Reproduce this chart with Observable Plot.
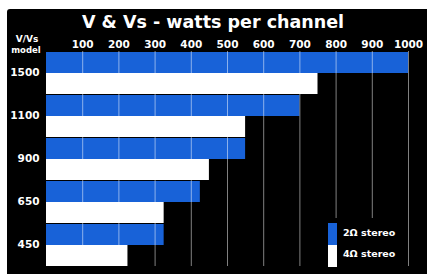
<!DOCTYPE html>
<html><head><meta charset="utf-8">
<script src="https://cdn.jsdelivr.net/npm/d3@7"></script>
<script src="https://cdn.jsdelivr.net/npm/@observablehq/plot@0.6"></script>
<style>
html,body{margin:0;padding:0;background:#fff;width:427px;height:274px;overflow:hidden}
#panel{position:absolute;left:7px;top:9px;width:420px;height:265px;background:#000;border-radius:3px 0 0 0}
svg{font-family:"DejaVu Sans",sans-serif;font-weight:bold}
</style></head>
<body><div id="panel"></div>
<script>
const title = "V & Vs - watts per channel";
const models = [1500, 1100, 900, 650, 450];
const series = ["2Ω stereo", "4Ω stereo"];
const watts2ohm = [1000, 700, 550, 425, 325];
const watts4ohm = [750, 550, 450, 325, 225];
const tickValues = [100, 200, 300, 400, 500, 600, 700, 800, 900, 1000];
const colors = ["#1862d8", "#ffffff"];

const data = [];
models.forEach((m, i) => {
  data.push({model: m, series: series[0], watts: watts2ohm[i]});
  data.push({model: m, series: series[1], watts: watts4ohm[i]});
});

const plot = Plot.plot({
  width: 420, height: 265,
  marginLeft: 39, marginRight: 19, marginTop: 41, marginBottom: 7,
  style: {background: "transparent", color: "white", fontSize: "10.5px", fontFamily: "DejaVu Sans", fontWeight: "bold"},
  x: {domain: [0, 1000], axis: "top", ticks: tickValues, tickSize: 0, tickPadding: 4, label: null, tickFormat: d => String(d)},
  y: {domain: series, axis: null, padding: 0},
  fy: {domain: models, padding: 0.01, tickSize: 0, tickPadding: 7, label: null, tickFormat: d => String(d)},
  color: {domain: series, range: colors},
  marks: [
    Plot.barX(data, {x: "watts", y: "series", fy: "model", fill: "series"}),
    Plot.ruleX(tickValues, {stroke: "white", strokeOpacity: 0.5, strokeWidth: 1})
  ]
});
document.getElementById("panel").appendChild(plot);

const svg = d3.select(plot).style("overflow", "visible");
svg.append("text").attr("x", 206).attr("y", 19).attr("text-anchor", "middle")
  .attr("fill", "white").style("font-size", "17.5px").text(title);
svg.append("text").attr("x", 20).attr("y", 33).attr("text-anchor", "middle")
  .attr("fill", "white").style("font-size", "9px").text("V/Vs");
svg.append("text").attr("x", 19).attr("y", 44).attr("text-anchor", "middle")
  .attr("fill", "white").style("font-size", "8.5px").text("model");

const leg = svg.append("g");
leg.append("rect").attr("x", 317).attr("y", 209).attr("width", 80).attr("height", 50).attr("fill", "black");
series.forEach((s, i) => {
  leg.append("rect").attr("x", 321).attr("y", 214 + i * 22).attr("width", 9).attr("height", 22).attr("fill", colors[i]);
  leg.append("text").attr("x", 336).attr("y", 227 + i * 21).attr("text-anchor", "start")
    .attr("fill", "white").style("font-size", "9.5px").text(s);
});
</script>
</body></html>
